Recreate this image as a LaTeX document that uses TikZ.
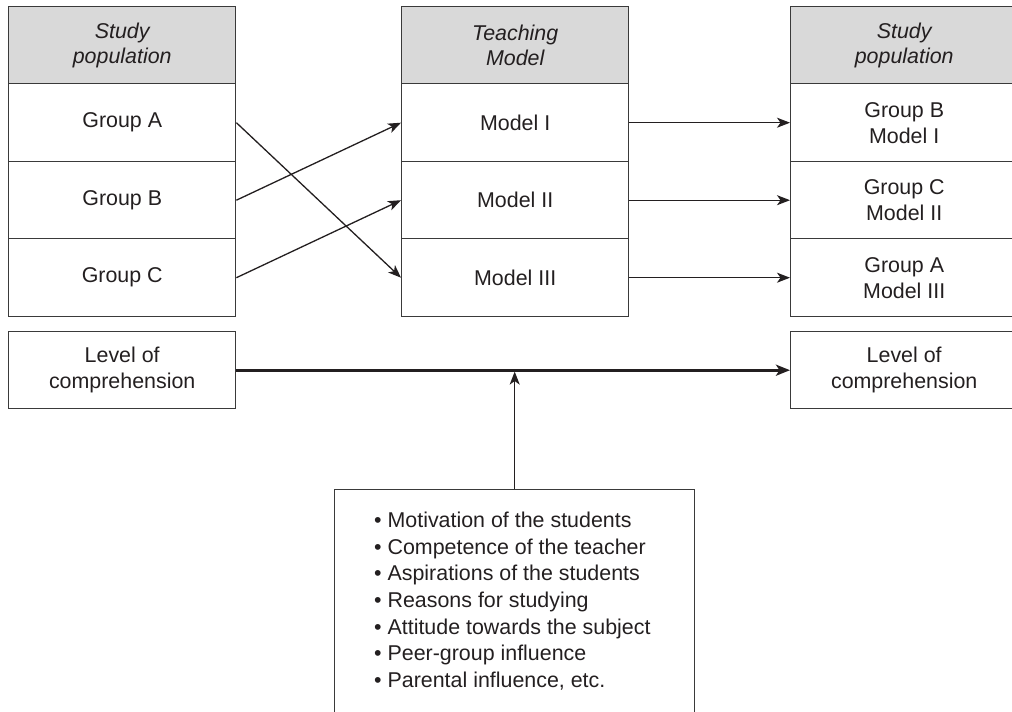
\documentclass[tikz,border=0pt]{standalone}
\usepackage{fontspec}
\setmainfont{Liberation Sans}
\usetikzlibrary{arrows.meta}
\definecolor{ink}{HTML}{231F20}
\definecolor{rule}{HTML}{3A3A3A}
\definecolor{hdr}{HTML}{D9D9D9}
\begin{document}
\begin{tikzpicture}[x=1pt,y=-1pt,
  cell/.style={draw=rule, line width=1.4pt, minimum width=227pt, minimum height=77pt,
    inner sep=0pt, align=center, text=ink, font=\fontsize{21.4}{26}\selectfont, anchor=north west},
  head/.style={cell, fill=hdr, font=\fontsize{21.4}{25}\selectfont\itshape},
  arr/.style={draw=ink, line width=1.3pt, -{Stealth[length=13pt,width=10pt,inset=3.5pt]}},
  bigarr/.style={draw=ink, line width=2.7pt, -{Stealth[length=14pt,width=11pt,inset=3.5pt]}}
]
\useasboundingbox (0,0) rectangle (1012,712);
% left column
\node[head] (hL) at (8,6) {Study\\population};
\node[cell, minimum height=78pt] (gA) at (8,83) {Group A};
\node[cell] (gB) at (8,161) {Group B};
\node[cell, minimum height=78pt] (gC) at (8,238) {Group C};
\node[cell] (lvL) at (8,331) {Level of\\comprehension};
% middle column
\node[head] (hM) at (401,6) {Teaching\\Model};
\node[cell, minimum height=78pt] (m1) at (401,83) {Model I};
\node[cell] (m2) at (401,161) {Model II};
\node[cell, minimum height=78pt] (m3) at (401,238) {Model III};
% right column
\node[head] (hR) at (790,6) {Study\\population};
\node[cell, minimum height=78pt] (r1) at (790,83) {Group B\\Model I};
\node[cell] (r2) at (790,161) {Group C\\Model II};
\node[cell, minimum height=78pt] (r3) at (790,238) {Group A\\Model III};
\node[cell] (lvR) at (790,331) {Level of\\comprehension};
% factors box
\node[draw=rule, line width=1.4pt, minimum width=360pt, minimum height=260pt, inner sep=0pt, anchor=north west] (fac) at (334,489) {};
\node[anchor=west, inner sep=0pt, align=left, text=ink, font=\fontsize{21.4}{26.67}\selectfont] (list) at (374,601)
  {• Motivation of the students\\
   • Competence of the teacher\\
   • Aspirations of the students\\
   • Reasons for studying\\
   • Attitude towards the subject\\
   • Peer-group influence\\
   • Parental influence, etc.};
% connectors
\draw[arr] (gA.east) -- (m3.west);
\draw[arr] (gB.east) -- (m1.west);
\draw[arr] (gC.east) -- (m2.west);
\draw[arr] (m1.east) -- (r1.west);
\draw[arr] (m2.east) -- (r2.west);
\draw[arr] (m3.east) -- (r3.west);
\draw[bigarr] (lvL.east) -- (lvR.west);
\coordinate (meet) at ([yshift=-1.4pt]fac.north |- lvL.east);
\draw[arr] (fac.north) -- (meet);
\end{tikzpicture}
\end{document}
